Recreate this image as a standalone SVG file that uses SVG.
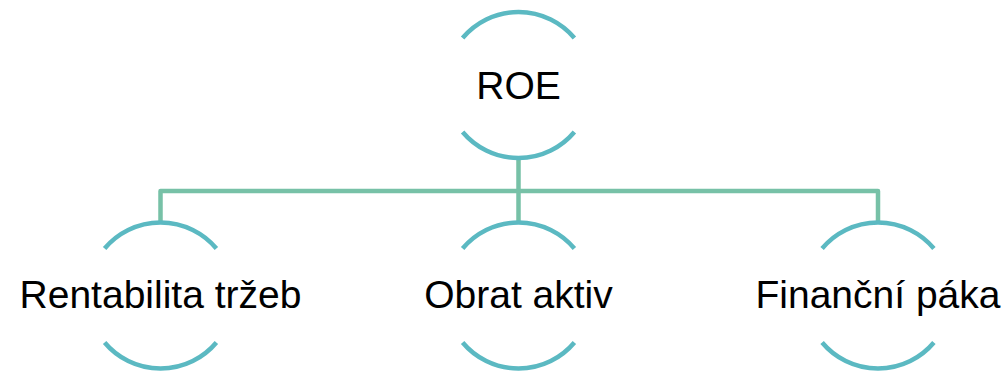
<svg xmlns="http://www.w3.org/2000/svg" width="1005" height="372" viewBox="0 0 1005 372">
<style>
.arc{fill:none;stroke:#5BB9C2;stroke-width:4.5}
.con{fill:none;stroke:#77C1A7;stroke-width:4.5;stroke-linejoin:round}
text{font-family:"Liberation Sans",Arial,sans-serif;font-size:39px;fill:#000;text-anchor:middle}
</style>
<rect width="1005" height="372" fill="#fff"/>
<g id="connectors">
<path class="con" d="M518.5 158 V222.5 M160.5 222.5 V191 H878 V222.5"/>
</g>
<g id="roe">
<path class="arc" d="M462.6 38 A73 73 0 0 1 574.4 38 M462.6 132 A73 73 0 0 0 574.4 132"/>
<text x="518.5" y="99">ROE</text>
</g>
<g id="rentabilita">
<path class="arc" d="M104.6 248.5 A73 73 0 0 1 216.4 248.5 M104.6 342.5 A73 73 0 0 0 216.4 342.5"/>
<text x="160.5" y="308">Rentabilita tržeb</text>
</g>
<g id="obrat">
<path class="arc" d="M462.6 248.5 A73 73 0 0 1 574.4 248.5 M462.6 342.5 A73 73 0 0 0 574.4 342.5"/>
<text x="518.5" y="308">Obrat aktiv</text>
</g>
<g id="paka">
<path class="arc" d="M822.1 248.5 A73 73 0 0 1 933.9 248.5 M822.1 342.5 A73 73 0 0 0 933.9 342.5"/>
<text x="878" y="308">Finanční páka</text>
</g>
</svg>
